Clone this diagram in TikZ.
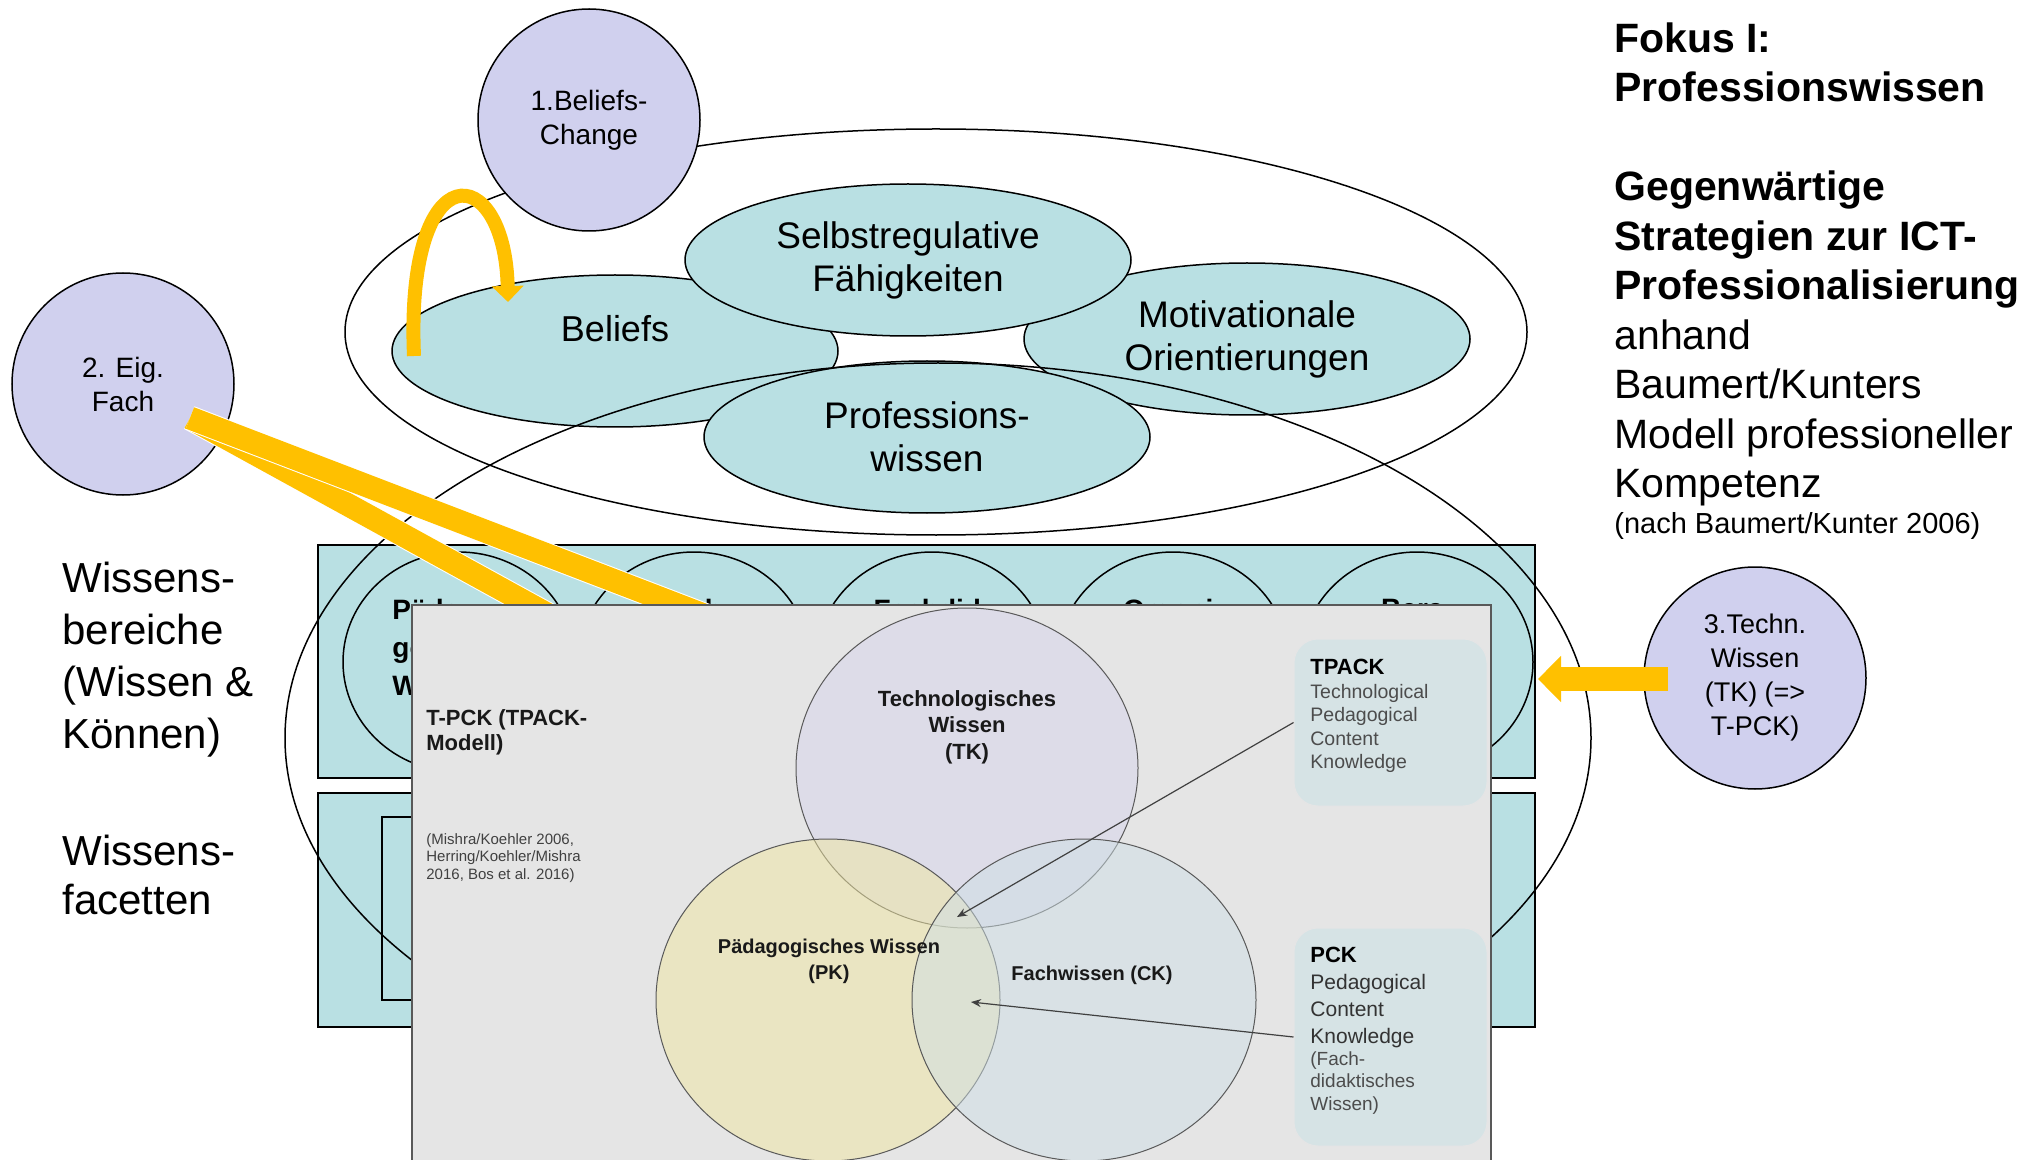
\documentclass[tikz,border=0pt]{standalone}
\usepackage{fontspec}
\setmainfont{Liberation Sans}
\usetikzlibrary{shapes.geometric,arrows.meta}
\definecolor{facettecolor}{RGB}{185,224,227}
\definecolor{strategiecolor}{RGB}{208,208,238}
\definecolor{pfeilcolor}{RGB}{255,192,0}
\definecolor{bildcolor}{RGB}{229,229,229}
\definecolor{tkcolor}{RGB}{215,213,235}
\definecolor{pkcolor}{RGB}{240,230,160}
\definecolor{ckcolor}{RGB}{207,223,229}
\definecolor{kastencolor}{RGB}{214,227,229}

\begin{document}
\begin{tikzpicture}[
    x=0.5pt, y=-0.5pt,
    rahmen/.style={ellipse, draw, line width=0.75pt, inner sep=0pt},
    facette/.style={ellipse, draw, fill=facettecolor, line width=0.75pt, inner sep=0pt, minimum width=223pt, minimum height=76pt, font=\fontsize{18.5}{21.5}\selectfont, align=center},
    strategie/.style={circle, draw, fill=strategiecolor, line width=0.75pt, inner sep=0pt, minimum size=111pt, font=\fontsize{14}{17}\selectfont, align=center},
    streifen/.style={rectangle, draw, fill=facettecolor, line width=0.75pt, inner sep=0pt},
    bereich/.style={ellipse, draw, line width=0.75pt, inner sep=0pt, minimum width=116pt, minimum height=110pt},
    bereichtext/.style={anchor=north, inner sep=0pt, font=\fontsize{14}{19}\selectfont\bfseries, align=center},
    venn/.style={ellipse, draw=black!65, line width=0.5pt, fill opacity=0.5, inner sep=0pt},
    venntext/.style={inner sep=0pt, text=black!90, font=\fontsize{11}{13.25}\selectfont\bfseries, align=center},
    kasten/.style={rectangle, rounded corners=12pt, fill=kastencolor, draw=black!10, line width=0.5pt, inner sep=0pt, minimum width=96.5pt},
    kastentext/.style={anchor=north west, inner sep=0pt, align=left, text=black!70},
    zeiger/.style={-{Stealth[length=5pt, width=4pt]}, draw=black!75, line width=0.6pt},
    gelbband/.style={draw=pfeilcolor, line width=11.5pt, preaction={draw=white, line width=12.5pt}},
    gelbpfeil/.style={draw=pfeilcolor, line width=7pt, -{Triangle[length=8pt, width=15.5pt]}},
    gelbblock/.style={draw=pfeilcolor, line width=12pt, -{Triangle[length=11.5pt, width=22.5pt]}},
    seitentext/.style={anchor=north west, inner sep=0pt, align=left}
]
\useasboundingbox (0,0) rectangle (2029,1160);

% Kompetenzmodell (oben)
\node[rahmen, minimum width=591pt, minimum height=203pt] (kompetenz) at (936,332) {};
\node[strategie] (beliefschange) at (589,120) {1.Beliefs-\\Change};

\node[facette] (beliefs) at (615,351) {};
\node[inner sep=0pt, anchor=base, font=\fontsize{18}{21}\selectfont] (beliefstext) at (615,342) {Beliefs};
\node[facette] (motivation) at (1247,339) {Motivationale\\Orientierungen};
\node[facette] (selbstreg) at (908,260) {Selbstregulative\\Fähigkeiten};
\node[facette] (profwissen) at (927,437) {Professions-\\wissen};

% Wissensbereiche und Wissensfacetten
\node[streifen, minimum width=608.5pt, minimum height=116.5pt] (bereiche) at (926.5,661.5) {};
\node[streifen, minimum width=608.5pt, minimum height=117pt] (facetten) at (926.5,910) {};
\node[streifen, minimum width=539pt, minimum height=91.5pt] (facetteninnen) at (921,908.5) {};

\foreach \x [count=\i] in {459,694,932,1173,1417}
    \node[bereich] (b\i) at (\x,662) {};

\node[bereichtext, anchor=north west, align=left] (pwtext) at (392,599) {Päda-\\gogisches\\Wissen};
\node[bereichtext] (fwtext) at (694,599) {Fach-};
\node[bereichtext] (fdtext) at (932,599) {Fachdid-};
\node[bereichtext] (owtext) at (1173,599) {Organi-};
\node[bereichtext] (bwtext) at (1417,599) {Bera-};

\node[rahmen, minimum width=653pt, minimum height=375pt] (profrahmen) at (938,738) {};

% Strategie 1: Beliefs-Change
\coordinate (kurvestart) at (414,356);
\coordinate (kurveende) at (508,302);
\draw[gelbpfeil] (kurvestart) .. controls (405,150) and (505,160) .. (kurveende);

% Strategie 2: eigenes Fach
\node[strategie] (eigfach) at (123,384) {2. Eig.\\Fach};
\coordinate (bandstart) at (190,418);
\coordinate (bandpw) at (716,707);
\coordinate (bandfw) at (842,668);
\draw[gelbband] (bandstart) -- (bandpw);
\draw[gelbband] (bandstart) -- (bandfw);

% TPACK-Modell (Bild)
\node[rectangle, draw=black!65, fill=bildcolor, line width=0.75pt, inner sep=0pt, minimum width=539.5pt, minimum height=282.5pt] (tpackbild) at (951.5,887.5) {};

\node[venn, fill=tkcolor, minimum width=171pt, minimum height=160pt] (tk) at (967,768) {};
\node[venn, fill=pkcolor, minimum width=172pt, minimum height=161pt] (pk) at (828,1000) {};
\node[venn, fill=ckcolor, minimum width=172pt, minimum height=161pt] (ck) at (1084,1000) {};

\node[venntext, anchor=north] (tktext) at (967,690) {Technologisches\\Wissen\\(TK)};
\node[venntext, anchor=north, font=\fontsize{10}{13}\selectfont\bfseries] (pktext) at (829,939) {Pädagogisches Wissen\\(PK)};
\node[venntext, anchor=base, font=\fontsize{10}{13}\selectfont\bfseries] (cktext) at (1092,980) {Fachwissen (CK)};
\node[venntext, anchor=north west, align=left, font=\fontsize{11}{12.5}\selectfont\bfseries] (modelltext) at (426,709) {T-PCK (TPACK-\\Modell)};
\node[venntext, anchor=north west, align=left, text=black!75, font=\fontsize{7.5}{8.75}\selectfont] (quelle) at (426,833) {(Mishra/Koehler 2006,\\Herring/Koehler/Mishra\\2016, Bos et al. 2016)};

\node[kasten, minimum height=83.5pt] (tpackkasten) at (1390.5,722.5) {};
\node[kasten, minimum height=109pt] (pckkasten) at (1390.5,1037) {};
\node[kastentext, font=\fontsize{9.75}{11.75}\selectfont] (tpacktext) at (1310,659) {\textcolor{black}{\bfseries\fontsize{11}{11.75}\selectfont TPACK}\\Technological\\Pedagogical\\Content\\Knowledge};
\node[kastentext, text=black!80, font=\fontsize{10.5}{13.5}\selectfont] (pcktext) at (1310,947) {\textcolor{black}{\bfseries\fontsize{11}{13.5}\selectfont PCK}\\Pedagogical\\Content\\Knowledge};
\node[kastentext, font=\fontsize{9.5}{11.25}\selectfont] (pckfach) at (1310,1051) {(Fach-\\didaktisches\\Wissen)};

\coordinate (tpackziel) at (957,917);
\coordinate (pckziel) at (971,1002);
\draw[zeiger] (tpackkasten.west) -- (tpackziel);
\draw[zeiger] (pckkasten.west) -- (pckziel);

% Strategie 3: technisches Wissen
\node[strategie, font=\fontsize{13.5}{17}\selectfont] (technwissen) at (1755,678) {3.Techn.\\Wissen\\(TK) (=>\\T-PCK)};
\coordinate (blockstart) at (1668,679);
\coordinate (blockspitze) at (1538,679);
\draw[gelbblock] (blockstart) -- (blockspitze);

% Seitentexte
\node[seitentext, font=\fontsize{21}{26}\selectfont] (bereichlabel) at (62,562) {Wissens-\\bereiche\\(Wissen \&\\Können)};
\node[seitentext, font=\fontsize{21}{24.5}\selectfont] (facettenlabel) at (62,835) {Wissens-\\facetten};

\node[seitentext, font=\fontsize{20.5}{24.75}\selectfont] (fokus) at (1614,22) {\textbf{Fokus I:}\\\textbf{Professionswissen}\\[24.75pt]\textbf{Gegenwärtige}\\\textbf{Strategien zur ICT-}\\\textbf{Professionalisierung}\\anhand\\Baumert/Kunters\\Modell professioneller\\Kompetenz};
\node[seitentext, font=\fontsize{14.5}{17}\selectfont] (nachtext) at (1614,512) {(nach Baumert/Kunter 2006)};

\end{tikzpicture}
\end{document}
